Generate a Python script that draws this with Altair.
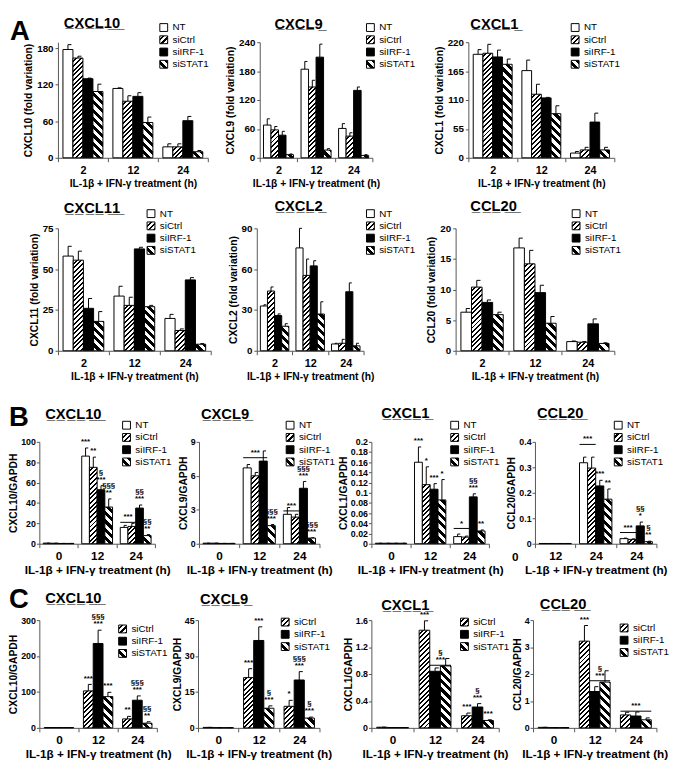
import json
import math
import altair as alt
import pandas as pd

FONT = "Liberation Sans"
S4 = ["NT", "siCtrl", "siIRF-1", "siSTAT1"]
S3 = ["siCtrl", "siIRF-1", "siSTAT1"]
XTITLE = "IL-1β + IFN-γ treatment (h)"
XTITLE_CCL20B = "L-1β + IFN-γ treatment (h)"

GA = ["2", "12", "24"]
GB = ["0", "12", "24"]
GB_CCL20 = ["12", "24", "24"]

# ---------------- Panel A (fold variation) ----------------
A_CXCL10_v = [[178, 164, 130, 109], [114, 93, 101, 58], [18, 18, 61, 10]]
A_CXCL10_e = [[8, 3, 1, 12], [1, 9, 6, 9], [5, 5, 7, 2]]
A_CXCL9_v = [[68, 58, 47, 6.5], [184, 147, 209, 16], [61, 45, 140, 5]]
A_CXCL9_e = [[13, 7, 8, 1.5], [16, 14, 27, 3], [10, 7, 7, 1.5]]
A_CXCL1_v = [[197, 199, 192, 178], [166, 121, 114, 84], [9, 15, 68, 15]]
A_CXCL1_e = [[9, 17, 13, 10], [20, 19, 1, 15], [3, 5, 17, 5]]
A_CXCL11_v = [[58, 55.5, 26, 18], [33.5, 27.8, 62.4, 27], [19.8, 12.4, 43.4, 4]]
A_CXCL11_e = [[6, 5.5, 6, 6], [6, 5, 1, 0.8], [2.5, 1, 1.4, 0.4]]
A_CXCL2_v = [[32.9, 43.9, 25.9, 18], [75.6, 55.4, 62.4, 27], [5, 5.5, 43.4, 3.6]]
A_CXCL2_e = [[0.9, 3, 1.2, 1.9], [14.4, 12, 3.8, 9], [0.5, 2.9, 6.5, 1.9]]
A_CCL20_v = [[6.3, 10.4, 7.9, 5.9], [16.8, 14.2, 9.5, 4.5], [1.5, 1.4, 4.4, 1.2]]
A_CCL20_e = [[0.6, 1.1, 0.4, 0.4], [1.6, 2.2, 1.2, 1.1], [0.1, 0.1, 0.8, 0.1]]

# ---------------- Panel B (/GAPDH) ----------------
B_CXCL10_v = [[0.6, 0.5, 0.3, 0.3], [86, 75, 53, 36], [16, 17, 35, 8]]
B_CXCL10_e = [[0, 0, 0, 0], [8, 10, 4, 8], [2, 3, 3, 1]]
B_CXCL10_s = [(1, 0, "***", ""), (1, 1, "**", ""), (1, 2, "***", "§"), (1, 3, "**", "§§§"),
              (2, 2, "***", "§§"), (2, 3, "**", "§§")]
B_CXCL10_l = [(2, 0, 1, 21, "***", "")]

B_CXCL9_v = [[0.05, 0.05, 0.03, 0.03], [6.7, 6.0, 7.3, 1.6], [2.6, 2.35, 4.9, 0.5]]
B_CXCL9_e = [[0, 0, 0, 0], [0.3, 0.3, 0.9, 0.1], [0.6, 0.25, 0.6, 0.03]]
B_CXCL9_s = [(1, 3, "***", "§§§"), (2, 2, "***", "§§§"), (2, 3, "***", "§§§")]
B_CXCL9_l = [(1, 0, 2, 7.6, "***", ""), (2, 0, 1, 2.9, "***", "")]

B_CXCL1_v = [[0.001, 0.001, 0.001, 0.001], [0.16, 0.116, 0.107, 0.086], [0.014, 0.013, 0.092, 0.025]]
B_CXCL1_e = [[0, 0, 0, 0], [0.03, 0.035, 0.011, 0.04], [0.005, 0.002, 0.006, 0.002]]
B_CXCL1_s = [(1, 0, "***", ""), (1, 1, "*", ""), (1, 2, "***", ""), (1, 3, "*", ""),
             (2, 2, "***", "§§"), (2, 3, "**", "")]
B_CXCL1_l = [(2, 0, 1, 0.03, "*", "")]

B_CCL20_v = [[0.001, 0.001, 0.001, 0.001], [0.318, 0.297, 0.227, 0.175], [0.02, 0.017, 0.07, 0.008]]
B_CCL20_e = [[0, 0, 0, 0], [0.022, 0.043, 0.022, 0.04], [0.002, 0.002, 0.015, 0.002]]
B_CCL20_s = [(1, 2, "***", ""), (1, 3, "**", ""), (2, 2, "*", "§§"), (2, 3, "**", "§")]
B_CCL20_l = [(1, 0, 1, 0.39, "***", ""), (2, 0, 1, 0.044, "***", "")]

# ---------------- Panel C (/GAPDH, three siRNAs) ----------------
C_CXCL10_v = [[1, 1, 1], [103, 235, 87], [25, 77, 13]]
C_CXCL10_e = [[0, 0, 0], [18, 37, 12], [7, 12, 4]]
C_CXCL10_s = [(1, 0, "***", ""), (1, 1, "***", "§§§"), (1, 2, "***", ""),
              (2, 0, "**", ""), (2, 1, "***", "§§§"), (2, 2, "**", "§§")]

C_CXCL9_v = [[0.2, 0.1, 0.1], [21, 36.5, 8.2], [9, 20, 4.1]]
C_CXCL9_e = [[0, 0, 0], [3.7, 5.7, 1], [2.5, 3.5, 0.4]]
C_CXCL9_s = [(1, 0, "***", ""), (1, 1, "***", ""), (1, 2, "***", "§"),
             (2, 0, "*", ""), (2, 1, "***", "§§§"), (2, 2, "***", "§")]

C_CXCL1_v = [[0.01, 0.005, 0.005], [1.45, 0.84, 0.92], [0.18, 0.31, 0.11]]
C_CXCL1_e = [[0, 0, 0], [0.14, 0.05, 0.11], [0.04, 0.05, 0.01]]
C_CXCL1_s = [(1, 0, "***", ""), (2, 0, "***", ""), (2, 1, "***", "§"), (2, 2, "***", "")]
C_CXCL1_l = [(1, 1, 2, 0.93, "***", "§")]

C_CCL20_v = [[0.02, 0.01, 0.01], [3.22, 1.35, 1.7], [0.48, 0.44, 0.3]]
C_CCL20_e = [[0, 0, 0], [0.58, 0.18, 0.42], [0.1, 0.15, 0.07]]
C_CCL20_s = [(1, 0, "***", "")]
C_CCL20_l = [(1, 1, 2, 1.75, "***", "§"), (2, 0, 2, 0.62, "***", "")]

# ---------------- hatch styles (stripe period px, black fraction, direction) ----------------
HATCH = {"siCtrl": (3.4, 0.42, "/"), "siSTAT1": (6.0, 0.5, "\\")}
NPER = 44


def stops_js(n, f):
    out = []
    for i in range(n):
        a, b, c = i / n, (i + 1 - f) / n, (i + 1) / n
        out += [f"{{offset:{a:.5f},color:'white'}}", f"{{offset:{b:.5f},color:'white'}}",
                f"{{offset:{b:.5f},color:'black'}}", f"{{offset:{c:.5f},color:'black'}}"]
    return "[" + ",".join(out) + "]"


def legend_grad(s):
    p, f, d = HATCH[s]
    n = 3 if d == "/" else 2
    if d == "/":
        return {"expr": f"{{gradient:'linear',x1:0,y1:0,x2:1,y2:1,stops:{stops_js(n, f)}}}"}
    return {"expr": f"{{gradient:'linear',x1:0,y1:1,x2:1,y2:0,stops:{stops_js(n, f)}}}"}


LEG_RANGE = {"NT": "white", "siCtrl": legend_grad("siCtrl"), "siIRF-1": "black",
             "siSTAT1": legend_grad("siSTAT1")}


def bar_fill_expr(wpx):
    parts = []
    for s, (p, f, d) in HATCH.items():
        k = math.sqrt(2) * NPER * p
        den = f"({wpx * wpx:.4f} + datum.hpx * datum.hpx)"
        if d == "/":
            g = (f"{{gradient:'linear',x1:0,y1:0,x2:{k:.4f}*{wpx:.4f}/{den},"
                 f"y2:{k:.4f}*datum.hpx/{den},stops:{stops_js(NPER, f)}}}")
        else:
            g = (f"{{gradient:'linear',x1:0,y1:1,x2:{k:.4f}*{wpx:.4f}/{den},"
                 f"y2:1-{k:.4f}*datum.hpx/{den},stops:{stops_js(NPER, f)}}}")
        parts.append(f"datum.series == '{s}' ? {g} : ")
    return "".join(parts) + "(datum.series == 'NT' ? 'white' : 'black')"


def underline(s):
    return "".join(ch + "\u0332" for ch in s)


def text_layer(t, x, y, size, align="left", baseline="alphabetic", weight="bold"):
    return alt.Chart(pd.DataFrame({"t": [t]})).mark_text(
        font=FONT, fontSize=size, fontWeight=weight, align=align, baseline=baseline,
        color="black").encode(text="t:N", x=alt.value(x), y=alt.value(y))


def panel(name, ytitle, series, groups, vals, errs, ymax, yticks, w, h, leg, ttl,
          singles=(), lines=(), xtitle=XTITLE, big=False, letter=None, extra0=False):
    n = len(series)
    bw = 0.2 if n == 4 else 0.25
    start = n * bw / 2
    wpx = bw * w / 3
    rows = [dict(g=g, s=s, series=series[s], value=vals[g][s], err=errs[g][s])
            for g in range(3) for s in range(n)]
    df = pd.DataFrame(rows)
    tick_fs = 9 if big else 10
    xl_fs = 12 if big else 11
    title_fs = 10.5
    xt_fs = 12 if big else 10.5

    xs = alt.Scale(domain=[-0.5, 2.5], nice=False, zero=False)
    ys = alt.Scale(domain=[0, ymax], nice=False, zero=True)
    labels = list(groups) + [""]
    xaxis = alt.Axis(values=[-0.5, 0.5, 1.5, 2.5],
                     labelExpr=json.dumps(labels) + "[datum.value + 0.5]",
                     labelOffset=w / 6, labelFlush=False, labelOverlap=False, labelBound=False,
                     title=xtitle, titleFont=FONT, titleFontSize=xt_fs, titleFontWeight="bold",
                     titleColor="black", titlePadding=3,
                     labelFont=FONT, labelFontSize=xl_fs, labelFontWeight="bold", labelColor="black",
                     labelPadding=3, tickSize=4, tickColor="#555", domainColor="#555", grid=False)
    yaxis = alt.Axis(values=yticks, labelExpr="format(datum.value, '~g')", title=ytitle,
                     titleFont=FONT, titleFontSize=title_fs, titleFontWeight="bold",
                     titleColor="black", titlePadding=2 if big else 3, labelFont=FONT,
                     labelFontSize=tick_fs, labelFontWeight="bold", labelColor="black",
                     labelPadding=1 if big else 2, tickSize=3, tickColor="#555",
                     domainColor="#555", grid=False)

    def X(f):
        return alt.X(f, type="quantitative", scale=xs, axis=xaxis)

    def Y(f):
        return alt.Y(f, type="quantitative", scale=ys, axis=yaxis)

    base = alt.Chart(df).transform_calculate(
        x0=f"datum.g - {start} + datum.s * {bw}",
        x1=f"datum.g - {start} + (datum.s + 1) * {bw}",
        xc=f"datum.g - {start} + (datum.s + 0.5) * {bw}",
        cr=f"datum.g - {start} + (datum.s + 0.85) * {bw}",
        top="datum.value + datum.err",
        hpx=f"datum.value / {ymax} * {h} + 0.01",
    ).transform_calculate(pat=bar_fill_expr(wpx))

    legend = alt.Legend(title=None, orient="none", legendX=leg[0], legendY=leg[1],
                        symbolType="square", symbolSize=64, symbolStrokeColor="black",
                        symbolStrokeWidth=1, symbolOpacity=1, labelFont=FONT, labelFontSize=10,
                        labelColor="black", rowPadding=0.5, labelOffset=4, padding=0)
    legend_layer = base.mark_bar(opacity=0).encode(
        x=X("x0"), x2="x1:Q", y=Y("value"), y2=alt.datum(0),
        color=alt.Color("series:N", scale=alt.Scale(domain=series,
                                                    range=[LEG_RANGE[s] for s in series]),
                        legend=legend))
    bars = base.mark_bar(stroke="black", strokeWidth=1).encode(
        x=X("x0"), x2="x1:Q", y=Y("value"), y2=alt.datum(0),
        fill=alt.Fill("pat:N", scale=None, legend=None))
    err = base.mark_rule(color="black", strokeWidth=1).encode(x=X("xc"), y=Y("value"), y2="top:Q")
    cap = base.mark_rule(color="black", strokeWidth=1).encode(x=X("xc"), x2="cr:Q", y=Y("top"))
    layers = [legend_layer, bars, err, cap]

    ann_font = dict(font=FONT, fontSize=8, fontWeight="bold", color="black", baseline="bottom")
    if singles:
        sd = pd.DataFrame([dict(g=g, s=s, lo=lo, hi=hi, top=vals[g][s] + errs[g][s])
                           for g, s, lo, hi in singles])
        sb = alt.Chart(sd).transform_calculate(xc=f"datum.g - {start} + (datum.s + 0.5) * {bw}")
        layers.append(sb.mark_text(dy=-2, **ann_font).encode(x=X("xc"), y=Y("top"), text="lo:N"))
        layers.append(sb.mark_text(dy=-9, **ann_font).encode(x=X("xc"), y=Y("top"), text="hi:N"))
    if lines:
        ld = pd.DataFrame([dict(g=g, s0=a, s1=b, level=lv, lo=lo, hi=hi)
                           for g, a, b, lv, lo, hi in lines])
        lb = alt.Chart(ld).transform_calculate(
            xl=f"datum.g - {start} + datum.s0 * {bw}",
            xr=f"datum.g - {start} + (datum.s1 + 1) * {bw}",
            xm=f"datum.g - {start} + (datum.s0 + datum.s1 + 1) * {bw} / 2")
        layers.append(lb.mark_rule(color="black", strokeWidth=1).encode(x=X("xl"), x2="xr:Q", y=Y("level")))
        layers.append(lb.mark_text(dy=-1, **ann_font).encode(x=X("xm"), y=Y("level"), text="lo:N"))
        layers.append(lb.mark_text(dy=-8, **ann_font).encode(x=X("xm"), y=Y("level"), text="hi:N"))
    layers.append(text_layer(underline(name), ttl[0], ttl[1], 15))
    if letter:
        layers.append(text_layer(letter[0], letter[1], letter[2], 28))
    if extra0:
        layers.append(text_layer("0", -20, h + 9, 12, align="center", baseline="top"))

    return alt.layer(*layers).properties(width=w, height=h)


def spacer(wd):
    return alt.Chart(pd.DataFrame({"a": [0]})).mark_point(opacity=0, size=1).encode(
        x=alt.value(0), y=alt.value(0)).properties(width=wd, height=1)


def row(items):
    charts = [spacer(it) if isinstance(it, (int, float)) else it for it in items]
    return alt.hconcat(*charts, spacing=0, bounds="flush").resolve_scale(
        color="independent", x="independent", y="independent")


pA1 = panel("CXCL10", "CXCL10 (fold variation)", S4, GA, A_CXCL10_v, A_CXCL10_e, 190,
            [0, 60, 120, 180], 153, 118, (103, -20), (6, -15), letter=("A", -49, -2))
pA2 = panel("CXCL9", "CXCL9 (fold variation)", S4, GA, A_CXCL9_v, A_CXCL9_e, 240,
            [0, 60, 120, 180, 240], 115, 118, (108, -20), (15, -14))
pA3 = panel("CXCL1", "CXCL1 (fold variation)", S4, GA, A_CXCL1_v, A_CXCL1_e, 220,
            [0, 55, 110, 165, 220], 149, 118, (104, -20), (2, -14))
pA4 = panel("CXCL11", "CXCL11 (fold variation)", S4, GA, A_CXCL11_v, A_CXCL11_e, 75,
            [0, 25, 50, 75], 156, 125, (90, -20), (6, -16))
pA5 = panel("CXCL2", "CXCL2 (fold variation)", S4, GA, A_CXCL2_v, A_CXCL2_e, 90,
            [0, 30, 60, 90], 109, 125, (111, -20), (18, -18))
pA6 = panel("CCL20", "CCL20 (fold variation)", S4, GA, A_CCL20_v, A_CCL20_e, 20,
            [0, 5, 10, 15, 20], 162, 125, (118, -20), (15, -18))

pB1 = panel("CXCL10", "CXCL10/GAPDH", S4, GB, B_CXCL10_v, B_CXCL10_e, 100,
            [0, 20, 40, 60, 80, 100], 118, 104, (84, -22), (6, -23), B_CXCL10_s, B_CXCL10_l,
            big=True, letter=("B", -31, -16))
pB2 = panel("CXCL9", "CXCL9/GAPDH", S4, GB, B_CXCL9_v, B_CXCL9_e, 9,
            [0, 3, 6, 9], 123, 104, (88, -22), (2, -23), B_CXCL9_s, B_CXCL9_l, big=True)
pB3 = panel("CXCL1", "CXCL1/GAPDH", S4, GB, B_CXCL1_v, B_CXCL1_e, 0.2,
            [0, 0.02, 0.04, 0.06, 0.08, 0.1, 0.12, 0.14, 0.16, 0.18, 0.2], 120, 104, (80, -22),
            (10, -24), B_CXCL1_s, B_CXCL1_l, big=True)
pB4 = panel("CCL20", "CCL20/GAPDH", S4, GB_CCL20, B_CCL20_v, B_CCL20_e, 0.4,
            [0, 0.1, 0.2, 0.3, 0.4], 124, 104, (80, -22), (2, -24), B_CCL20_s, B_CCL20_l,
            xtitle=XTITLE_CCL20B, big=True, extra0=True)

pC1 = panel("CXCL10", "CXCL10/GAPDH", S3, GB, C_CXCL10_v, C_CXCL10_e, 300,
            [0, 100, 200, 300], 120, 110, (80, 4), (6, -17), C_CXCL10_s, big=True,
            letter=("C", -31, -12))
pC2 = panel("CXCL9", "CXCL9/GAPDH", S3, GB, C_CXCL9_v, C_CXCL9_e, 45,
            [0, 15, 30, 45], 124, 110, (84, -3), (2, -16), C_CXCL9_s, big=True)
pC3 = panel("CXCL1", "CXCL1/GAPDH", S3, GB, C_CXCL1_v, C_CXCL1_e, 1.6,
            [0, 0.4, 0.8, 1.2, 1.6], 130, 110, (90, -3), (10, -10), C_CXCL1_s, C_CXCL1_l, big=True)
pC4 = panel("CCL20", "CCL20/GAPDH", S3, GB, C_CCL20_v, C_CCL20_e, 4,
            [0, 1, 2, 3, 4], 126, 110, (88, 3), (7, -11), C_CCL20_s, C_CCL20_l, big=True)

rowA1 = row([19, pA1, 53, pA2, 98, pA3])
rowA2 = row([19, pA4, 47, pA5, 94, pA6])
rowB = row([pB1, 45, pB2, 53, pB3, 47, pB4])
rowC = row([pC1, 42, pC2, 53, pC3, 35, pC4])

groupA = alt.vconcat(rowA1, rowA2, spacing=10).resolve_scale(
    color="independent", x="independent", y="independent")
groupBC = alt.vconcat(rowB, rowC, spacing=12).resolve_scale(
    color="independent", x="independent", y="independent")

chart = alt.vconcat(groupA, groupBC, spacing=23).resolve_scale(
    color="independent", x="independent", y="independent").properties(
    padding=0, background="white"
).configure_view(stroke=None)

chart.save("out.html", embed_options={"renderer": "svg", "actions": False})
